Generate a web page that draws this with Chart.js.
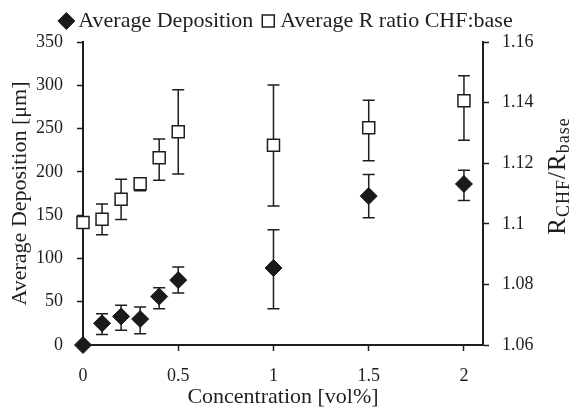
<!DOCTYPE html>
<html>
<head>
<meta charset="utf-8">
<script src="https://cdn.jsdelivr.net/npm/chart.js@4.4.1/dist/chart.umd.min.js"></script>
<style>
  html, body { margin: 0; padding: 0; background: #fff; }
  #wrap { width: 578px; height: 410px; }
</style>
</head>
<body>
<div id="wrap"><canvas id="chart"></canvas></div>
<script>
// concentration in vol%
const concentration = [0, 0.1, 0.2, 0.3, 0.4, 0.5, 1, 1.5, 2];

// average deposition [um] and its error bars (up / down)
const deposition = [0, 25, 33, 30, 56, 75, 89, 172, 186];
const depositionErrUp = [0, 11, 13, 14, 10, 15, 44, 25, 16];
const depositionErrDown = [0, 13, 16, 17, 14, 15, 47, 25, 19];

// average R ratio CHF:base and its error bars
const rRatio = [1.1004, 1.1015, 1.1081, 1.1132, 1.1218, 1.1304, 1.1259, 1.1317, 1.1406];
const rRatioErrUp = [0, 0.005, 0.0066, 0.001, 0.0062, 0.0138, 0.0199, 0.0091, 0.0083];
const rRatioErrDown = [0, 0.0051, 0.0067, 0.0023, 0.0074, 0.014, 0.02, 0.0109, 0.013];

const xTicks = [0, 0.5, 1, 1.5, 2];
const leftTicks = [0, 50, 100, 150, 200, 250, 300, 350];
const rightTicks = [1.06, 1.08, 1.1, 1.12, 1.14, 1.16];

const fontFamily = '"Liberation Serif", "Times New Roman", serif';
const textColor = '#1e1e1e';
const lineColor = '#1e1e1e';

function toPoints(xs, ys) {
    return xs.map((x, i) => ({ x: x, y: ys[i] }));
}

function useTicks(values) {
    return function (scale) {
        scale.ticks = values.map(v => ({ value: v }));
    };
}

// Excel-like vertical error bars, drawn under the markers
const errorBars = {
    id: 'errorBars',
    beforeDatasetsDraw(chart) {
        const ctx = chart.ctx;
        const xScale = chart.scales.x;
        ctx.save();
        ctx.strokeStyle = lineColor;
        ctx.lineWidth = 1.5;
        chart.data.datasets.forEach(ds => {
            const yScale = chart.scales[ds.yAxisID];
            ds.data.forEach((p, i) => {
                const up = ds.errUp[i];
                const down = ds.errDown[i];
                if (!up && !down) return;
                const x = xScale.getPixelForValue(p.x);
                const yTop = yScale.getPixelForValue(p.y + up);
                const yBottom = yScale.getPixelForValue(p.y - down);
                ctx.beginPath();
                ctx.moveTo(x, yTop);
                ctx.lineTo(x, yBottom);
                ctx.moveTo(x - 6, yTop);
                ctx.lineTo(x + 6, yTop);
                ctx.moveTo(x - 6, yBottom);
                ctx.lineTo(x + 6, yBottom);
                ctx.stroke();
            });
        });
        ctx.restore();
    }
};

// right axis title with subscripts: R_CHF / R_base
const rightTitle = {
    id: 'rightTitle',
    afterDraw(chart) {
        const ctx = chart.ctx;
        const parts = [
            { text: 'R', size: 25, sub: false },
            { text: 'CHF', size: 18, sub: true },
            { text: '/R', size: 25, sub: false },
            { text: 'base', size: 18, sub: true }
        ];
        ctx.save();
        ctx.fillStyle = textColor;
        ctx.textBaseline = 'alphabetic';
        ctx.textAlign = 'left';
        if ('letterSpacing' in ctx) ctx.letterSpacing = '1px';
        let total = 0;
        parts.forEach(p => {
            ctx.font = p.size + 'px ' + fontFamily;
            p.width = ctx.measureText(p.text).width;
            total += p.width;
        });
        ctx.translate(565, 176);
        ctx.rotate(-Math.PI / 2);
        let x = -total / 2;
        parts.forEach(p => {
            ctx.font = p.size + 'px ' + fontFamily;
            ctx.fillText(p.text, x, p.sub ? 4 : 0);
            x += p.width;
        });
        ctx.restore();
    }
};

const ctx = document.getElementById('chart').getContext('2d');
new Chart(ctx, {
    type: 'scatter',
    data: {
        datasets: [{
            label: 'Average Deposition',
            data: toPoints(concentration, deposition),
            errUp: depositionErrUp,
            errDown: depositionErrDown,
            yAxisID: 'y',
            pointStyle: 'rectRot',
            pointRadius: 8.5,
            backgroundColor: '#1a1a1a',
            borderColor: '#1a1a1a',
            borderWidth: 1,
            clip: false
        }, {
            label: 'Average R ratio CHF:base',
            data: toPoints(concentration, rRatio),
            errUp: rRatioErrUp,
            errDown: rRatioErrDown,
            yAxisID: 'y1',
            pointStyle: 'rect',
            pointRadius: 8.5,
            backgroundColor: '#ffffff',
            borderColor: '#1e1e1e',
            borderWidth: 1.5,
            clip: false
        }]
    },
    options: {
        responsive: true,
        maintainAspectRatio: false,
        animation: false,
        events: [],
        layout: { padding: { top: -4, left: 0, right: 0, bottom: 0 } },
        scales: {
            x: {
                type: 'linear',
                min: 0,
                max: 2.1,
                afterBuildTicks: useTicks(xTicks),
                afterFit: scale => { scale.height = 65; },
                grid: { display: true, drawOnChartArea: false, drawTicks: true, tickLength: 6, tickColor: lineColor, tickWidth: 1.5 },
                border: { color: lineColor, width: 2 },
                ticks: {
                    color: textColor,
                    padding: 14,
                    font: { family: fontFamily, size: 18 },
                    callback: v => String(v)
                },
                title: {
                    display: true,
                    text: 'Concentration [vol%]',
                    color: textColor,
                    font: { family: fontFamily, size: 22 },
                    padding: { top: 0, bottom: 0 }
                }
            },
            y: {
                type: 'linear',
                position: 'left',
                min: 0,
                max: 350,
                afterBuildTicks: useTicks(leftTicks),
                afterFit: scale => { scale.width = 83; },
                grid: { display: true, drawOnChartArea: false, drawTicks: true, tickLength: 6, tickColor: lineColor, tickWidth: 1.5 },
                border: { color: lineColor, width: 2 },
                ticks: {
                    color: textColor,
                    padding: 14,
                    font: { family: fontFamily, size: 18 },
                    callback: v => String(v)
                },
                title: {
                    display: true,
                    text: 'Average Deposition [\u03bcm]',
                    color: textColor,
                    font: { family: fontFamily, size: 22 },
                    padding: { top: 7, bottom: 0 }
                }
            },
            y1: {
                type: 'linear',
                position: 'right',
                min: 1.06,
                max: 1.16,
                afterBuildTicks: useTicks(rightTicks),
                afterFit: scale => { scale.width = 95; },
                grid: { display: true, drawOnChartArea: false, drawTicks: true, tickLength: 6, tickColor: lineColor, tickWidth: 1.5 },
                border: { color: lineColor, width: 2 },
                ticks: {
                    color: textColor,
                    padding: 13,
                    font: { family: fontFamily, size: 18 },
                    callback: v => String(Math.round(v * 100) / 100)
                }
            }
        },
        plugins: {
            legend: {
                display: true,
                position: 'top',
                labels: {
                    usePointStyle: true,
                    boxWidth: 2,
                    boxHeight: 12,
                    padding: 14,
                    color: textColor,
                    font: { family: fontFamily, size: 22 }
                }
            },
            tooltip: { enabled: false }
        }
    },
    plugins: [errorBars, rightTitle]
});
</script>
</body>
</html>
